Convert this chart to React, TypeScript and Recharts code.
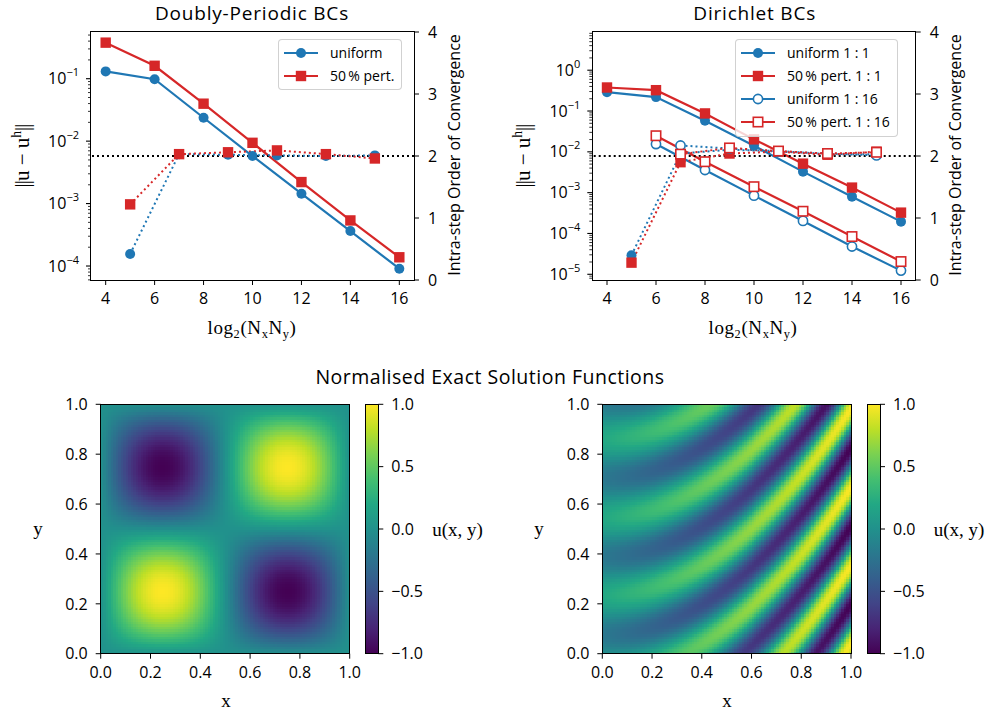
import React from 'react';
import {
  LineChart,
  Line,
  XAxis,
  YAxis,
  ReferenceLine,
  Legend,
  ScatterChart,
  Scatter,
  ComposedChart,
  ReferenceArea,
} from 'recharts';

const BLUE = '#1f77b4';
const RED = '#d62728';
const SANS = '"Open Sans", "Noto Sans", sans-serif';
const MATH = '"Liberation Serif", "DejaVu Serif", serif';

// ---- convergence study: refinement levels log2(Nx*Ny) ----
const errorLevels = [4, 6, 8, 10, 12, 14, 16];
const orderLevels = [5, 7, 9, 11, 13, 15];
const levelTicks = [4, 6, 8, 10, 12, 14, 16];
const orderTicks = [0, 1, 2, 3, 4];
const targetOrder = 2;

// Doubly-periodic BCs: error norms and intra-step orders
const periodicUniformError = [0.131, 0.098, 0.0237, 0.00577, 0.00144, 3.63e-4, 9.05e-5];
const periodicPerturbedError = [0.378, 0.161, 0.0398, 0.0094, 0.00221, 5.37e-4, 1.38e-4];
const periodicUniformOrder = [0.42, 2.03, 2.02, 2.01, 2.0, 2.01];
const periodicPerturbedOrder = [1.22, 2.03, 2.06, 2.09, 2.03, 1.96];

// Dirichlet BCs: aspect ratios 1:1 and 1:16
const dirichletUniform11Error = [0.29, 0.219, 0.0575, 0.0141, 0.00327, 7.98e-4, 1.95e-4];
const dirichletPerturbed11Error = [0.377, 0.324, 0.0873, 0.0202, 0.00513, 0.00133, 3.24e-4];
const dirichletUniform116Error = [null, 0.0155, 0.00359, 8.45e-4, 2.03e-4, 4.78e-5, 1.23e-5];
const dirichletPerturbed116Error = [null, 0.0248, 0.00573, 0.0014, 3.5e-4, 8.4e-5, 2.05e-5];
const dirichletUniform11Order = [0.4, 2.04, 2.1, 2.08, 2.03, 2.03];
const dirichletPerturbed11Order = [0.28, 1.9, 2.04, 2.07, 2.02, 2.07];
const dirichletUniform116Order = [null, 2.17, 2.12, 2.07, 2.04, 2.01];
const dirichletPerturbed116Order = [null, 2.03, 2.13, 2.08, 2.04, 2.06];

// log-axis limits (as log10 exponents)
const periodicErrorLimits = [-4.224, -0.252];
const dirichletErrorLimits = [-5.14, 0.936];

// ---- exact solution fields ----
const fieldTicks = [0, 0.2, 0.4, 0.6, 0.8, 1];
const colourbarTicks = [-1, -0.5, 0, 0.5, 1];
const FIELD_N = 100;
const periodicWaveNumbers = [1, 1];
const dirichletEnvelope = [0.2, 0.8];
const dirichletPhase = [15, 20];

const viridisStops = [
  '#440154', '#482475', '#414487', '#355f8d', '#2a788e', '#21918c',
  '#22a884', '#44bf70', '#7ad151', '#bddf26', '#fde725',
];

type Num = number | null;
type Series = {
  key: string;
  label?: string;
  color: string;
  marker: 'circle' | 'square';
  open?: boolean;
  axis: 'err' | 'ord';
  dotted?: boolean;
  values: Num[];
};

function buildRows(series: Series[]) {
  const levels: number[] = [];
  for (let n = 4; n <= 16; n++) levels.push(n);
  return levels.map((n) => {
    const row: Record<string, Num> = { n };
    series.forEach((s) => {
      const idx = (s.axis === 'err' ? errorLevels : orderLevels).indexOf(n);
      row[s.key] = idx >= 0 ? s.values[idx] : null;
    });
    return row;
  });
}

function logTicks(limits: number[]) {
  const lo = Math.pow(10, limits[0]);
  const hi = Math.pow(10, limits[1]);
  const out: number[] = [];
  for (let d = Math.floor(limits[0]); d <= Math.ceil(limits[1]); d++) {
    for (let m = 1; m <= 9; m++) {
      const v = m * Math.pow(10, d);
      if (v >= lo && v <= hi) out.push(v);
    }
  }
  return out;
}

const hexToRgb = (h: string) => [1, 3, 5].map((i) => parseInt(h.slice(i, i + 2), 16));
const viridisRgb = viridisStops.map(hexToRgb);
function viridis(u: number) {
  const t = Math.min(1, Math.max(0, (u + 1) / 2)) * (viridisRgb.length - 1);
  const i = Math.min(viridisRgb.length - 2, Math.floor(t));
  const f = t - i;
  const a = viridisRgb[i];
  const b = viridisRgb[i + 1];
  const c = a.map((v, k) => Math.round(v + (b[k] - v) * f));
  return `rgb(${c[0]},${c[1]},${c[2]})`;
}

const periodicSolution = (x: number, y: number) =>
  Math.sin(2 * Math.PI * periodicWaveNumbers[0] * x) * Math.sin(2 * Math.PI * periodicWaveNumbers[1] * y);
const dirichletSolution = (x: number, y: number) =>
  (dirichletEnvelope[0] + dirichletEnvelope[1] * x) * Math.sin(dirichletPhase[0] * x * x - dirichletPhase[1] * y);

function sampleField(fn: (x: number, y: number) => number) {
  const cells: { x: number; y: number; u: number }[] = [];
  for (let j = 0; j < FIELD_N; j++) {
    for (let i = 0; i < FIELD_N; i++) {
      const x = (i + 0.5) / FIELD_N;
      const y = (j + 0.5) / FIELD_N;
      cells.push({ x, y, u: fn(x, y) });
    }
  }
  return cells;
}

const periodicCells = sampleField(periodicSolution);
const dirichletCells = sampleField(dirichletSolution);

// ---- shared drawing helpers ----
function Marker({ cx, cy, color, marker, open }: { cx: number; cy: number; color: string; marker: string; open?: boolean }) {
  if (marker === 'circle') {
    return open ? (
      <circle cx={cx} cy={cy} r={4.6} fill="#fff" stroke={color} strokeWidth={1.6} />
    ) : (
      <circle cx={cx} cy={cy} r={5} fill={color} />
    );
  }
  const s = open ? 9.4 : 10.4;
  return open ? (
    <rect x={cx - s / 2} y={cy - s / 2} width={s} height={s} fill="#fff" stroke={color} strokeWidth={1.6} />
  ) : (
    <rect x={cx - s / 2} y={cy - s / 2} width={s} height={s} fill={color} />
  );
}

const dotFor = (s: Series) => (props: any) => {
  const { cx, cy, index, value } = props;
  const key = `${s.key}-${index}`;
  if (value == null || cx == null || cy == null || Number.isNaN(cy)) return <g key={key} />;
  return <Marker key={key} cx={cx} cy={cy} color={s.color} marker={s.marker} open={s.open} />;
};

function LogTick(props: any) {
  const { x, y, payload } = props;
  const v = payload.value as number;
  const e = Math.round(Math.log10(v));
  const major = Math.abs(Math.log10(v) - e) < 1e-9;
  return (
    <g>
      <line x1={x - (major ? 5 : 3)} x2={x} y1={y} y2={y} stroke="#000" strokeWidth={major ? 1.1 : 0.8} />
      {major && (
        <text x={x - 12} y={y + 5.5} textAnchor="end" fontFamily={SANS} fontSize={16} fill="#000">
          10
          <tspan dy={-8} fontSize={11}>
            {e < 0 ? `\u2212${-e}` : `${e}`}
          </tspan>
        </text>
      )}
    </g>
  );
}

function LegendBox({ entries }: { entries: Series[] }) {
  return (
    <div
      style={{
        background: 'rgba(255,255,255,0.8)',
        border: '1px solid rgba(204,204,204,0.9)',
        borderRadius: 4,
        padding: '1px 7px 2px 4px',
        fontFamily: SANS,
        fontSize: 14,
        color: '#000',
        lineHeight: 1,
      }}
    >
      {entries.map((s) => (
        <div key={s.key} style={{ display: 'flex', alignItems: 'center', height: 23.2 }}>
          <svg width={36} height={14} style={{ flex: 'none' }}>
            <line x1={1} x2={35} y1={7} y2={7} stroke={s.color} strokeWidth={2.2} />
            <Marker cx={18} cy={7} color={s.color} marker={s.marker} open={s.open} />
          </svg>
          <span style={{ marginLeft: 11, whiteSpace: 'nowrap' }}>{s.label}</span>
        </div>
      ))}
    </div>
  );
}

const tickText = { fill: '#000', fontSize: 16, fontFamily: SANS };
const fmt1 = (v: number) => (v < 0 ? '\u2212' : '') + Math.abs(v).toFixed(1);

function Frame({ x, y, w, h }: { x: number; y: number; w: number; h: number }) {
  const lw = 1.3;
  return (
    <div
      style={{
        position: 'absolute',
        left: x - lw / 2,
        top: y - lw / 2,
        width: w + lw,
        height: h + lw,
        border: `${lw}px solid #000`,
        boxSizing: 'border-box',
        pointerEvents: 'none',
      }}
    />
  );
}

function Txt({ x, y, rot = 0, size = 16, family = SANS, spacing = 0, children }: any) {
  return (
    <div
      style={{
        position: 'absolute',
        left: x,
        top: y,
        transform: `translate(-50%, -50%) rotate(${rot}deg)`,
        fontSize: size,
        fontFamily: family,
        letterSpacing: spacing,
        whiteSpace: 'nowrap',
        lineHeight: 1.25,
        color: '#000',
      }}
    >
      {children}
    </div>
  );
}

function ConvergencePanel({
  left,
  margin,
  series,
  limits,
  legendAt,
}: {
  left: number;
  margin: { top: number; right: number; bottom: number; left: number };
  series: Series[];
  limits: number[];
  legendAt: { left: number; top: number };
}) {
  const rows = buildRows(series);
  const ticks = logTicks(limits);
  const errSeries = series.filter((s) => s.axis === 'err');
  const ordSeries = series.filter((s) => s.axis === 'ord');
  const renderLine = (s: Series) => (
    <Line
      key={s.key}
      yAxisId={s.axis}
      dataKey={s.key}
      stroke={s.color}
      strokeWidth={s.dotted ? 2 : 2.2}
      strokeDasharray={s.dotted ? '2 3' : undefined}
      dot={dotFor(s)}
      activeDot={false}
      connectNulls
      isAnimationActive={false}
      legendType="none"
    />
  );
  return (
    <div style={{ position: 'absolute', left, top: 0 }}>
      <LineChart width={495} height={340} data={rows} margin={margin}>
        <XAxis
          dataKey="n"
          type="number"
          domain={[3.4, 16.6]}
          ticks={levelTicks}
          allowDataOverflow
          interval={0}
          axisLine={false}
          tickLine={{ stroke: '#000' }}
          tickSize={5}
          tickMargin={8}
          tick={tickText}
          height={40}
        />
        <YAxis
          yAxisId="err"
          scale="log"
          type="number"
          domain={[Math.pow(10, limits[0]), Math.pow(10, limits[1])]}
          ticks={ticks}
          allowDataOverflow
          interval={0}
          axisLine={false}
          tickLine={false}
          tickSize={0}
          tickMargin={0}
          tick={<LogTick />}
          width={60}
        />
        <YAxis
          yAxisId="ord"
          orientation="right"
          type="number"
          domain={[0, 4]}
          ticks={orderTicks}
          allowDataOverflow
          interval={0}
          axisLine={false}
          tickLine={{ stroke: '#000' }}
          tickSize={5}
          tickMargin={9}
          tick={tickText}
          width={50}
        />
        {errSeries.map(renderLine)}
        <ReferenceLine yAxisId="ord" y={targetOrder} stroke="#000" strokeWidth={2} strokeDasharray="2 3" />
        {ordSeries.map(renderLine)}
        <Legend
          layout="horizontal"
          verticalAlign="middle"
          align="center"
          wrapperStyle={{ left: legendAt.left, top: legendAt.top, width: 'auto', height: 'auto' }}
          content={() => <LegendBox entries={errSeries} />}
        />
      </LineChart>
    </div>
  );
}

const FIELD_PLOT = 249;
const cellShape = (props: any) => {
  const { cx, cy, payload } = props;
  const w = FIELD_PLOT / FIELD_N;
  return (
    <rect
      x={cx - w / 2}
      y={cy - w / 2}
      width={w + 0.6}
      height={w + 0.6}
      fill={viridis(payload.u)}
      shapeRendering="crispEdges"
    />
  );
};

function FieldPanel({
  left,
  margin,
  cells,
}: {
  left: number;
  margin: { top: number; right: number; bottom: number; left: number };
  cells: { x: number; y: number; u: number }[];
}) {
  return (
    <div style={{ position: 'absolute', left, top: 360 }}>
      <ScatterChart width={495} height={353} margin={margin}>
        <XAxis
          type="number"
          dataKey="x"
          domain={[0, 1]}
          ticks={fieldTicks}
          tickFormatter={fmt1}
          allowDataOverflow
          interval={0}
          axisLine={false}
          tickLine={{ stroke: '#000' }}
          tickSize={5}
          tickMargin={8}
          tick={tickText}
          height={35}
        />
        <YAxis
          type="number"
          dataKey="y"
          domain={[0, 1]}
          ticks={fieldTicks}
          tickFormatter={fmt1}
          allowDataOverflow
          interval={0}
          axisLine={false}
          tickLine={{ stroke: '#000' }}
          tickSize={5}
          tickMargin={8}
          tick={tickText}
          width={60}
        />
        <Scatter data={cells} shape={cellShape} isAnimationActive={false} />
      </ScatterChart>
    </div>
  );
}

function Colourbar({
  left,
  margin,
  id,
}: {
  left: number;
  margin: { top: number; right: number; bottom: number; left: number };
  id: string;
}) {
  return (
    <div style={{ position: 'absolute', left, top: 360 }}>
      <ComposedChart width={100} height={353} margin={margin} data={[{ x: 0 }, { x: 1 }]}>
        <defs>
          <linearGradient id={id} x1="0" y1="1" x2="0" y2="0">
            {viridisStops.map((c, i) => (
              <stop key={i} offset={`${i * 10}%`} stopColor={c} />
            ))}
          </linearGradient>
        </defs>
        <XAxis type="number" dataKey="x" domain={[0, 1]} hide />
        <YAxis
          orientation="right"
          type="number"
          domain={[-1, 1]}
          ticks={colourbarTicks}
          tickFormatter={fmt1}
          allowDataOverflow
          interval={0}
          axisLine={false}
          tickLine={{ stroke: '#000' }}
          tickSize={5}
          tickMargin={8}
          tick={tickText}
          width={50}
        />
        <ReferenceArea x1={0} x2={1} y1={-1} y2={1} fill={`url(#${id})`} fillOpacity={1} stroke="none" />
      </ComposedChart>
    </div>
  );
}

const periodicSeries: Series[] = [
  { key: 'uErr', label: 'uniform', color: BLUE, marker: 'circle', axis: 'err', values: periodicUniformError },
  { key: 'pErr', label: '50\u2009% pert.', color: RED, marker: 'square', axis: 'err', values: periodicPerturbedError },
  { key: 'uOrd', color: BLUE, marker: 'circle', axis: 'ord', dotted: true, values: periodicUniformOrder },
  { key: 'pOrd', color: RED, marker: 'square', axis: 'ord', dotted: true, values: periodicPerturbedOrder },
];

const dirichletSeries: Series[] = [
  { key: 'u11Err', label: 'uniform 1\u2005:\u20051', color: BLUE, marker: 'circle', axis: 'err', values: dirichletUniform11Error },
  { key: 'p11Err', label: '50\u2009% pert. 1\u2005:\u20051', color: RED, marker: 'square', axis: 'err', values: dirichletPerturbed11Error },
  { key: 'u116Err', label: 'uniform 1\u2005:\u200516', color: BLUE, marker: 'circle', open: true, axis: 'err', values: dirichletUniform116Error },
  { key: 'p116Err', label: '50\u2009% pert. 1\u2005:\u200516', color: RED, marker: 'square', open: true, axis: 'err', values: dirichletPerturbed116Error },
  { key: 'u11Ord', color: BLUE, marker: 'circle', axis: 'ord', dotted: true, values: dirichletUniform11Order },
  { key: 'p11Ord', color: RED, marker: 'square', axis: 'ord', dotted: true, values: dirichletPerturbed11Order },
  { key: 'u116Ord', color: BLUE, marker: 'circle', open: true, axis: 'ord', dotted: true, values: dirichletUniform116Order },
  { key: 'p116Ord', color: RED, marker: 'square', open: true, axis: 'ord', dotted: true, values: dirichletPerturbed116Order },
];

const normLabel = (
  <span>
    <span style={{ letterSpacing: '-0.05em' }}>||</span>
    {'u \u2212 u'}
    <sup style={{ fontSize: '0.65em', verticalAlign: '0.55em' }}>h</sup>
    <span style={{ letterSpacing: '-0.05em' }}>||</span>
  </span>
);
const levelLabel = (
  <span>
    log<sub style={{ fontSize: '0.65em', verticalAlign: '-0.3em' }}>2</sub>(N
    <sub style={{ fontSize: '0.65em', verticalAlign: '-0.3em' }}>x</sub>N
    <sub style={{ fontSize: '0.65em', verticalAlign: '-0.3em' }}>y</sub>)
  </span>
);

export default function App() {
  return (
    <div
      style={{
        position: 'absolute',
        left: 0,
        top: 0,
        width: 990,
        height: 713,
        background: '#fff',
        overflow: 'hidden',
        fontFamily: SANS,
      }}
    >
      <ConvergencePanel
        left={0}
        margin={{ top: 32, right: 31, bottom: 20, left: 31 }}
        series={periodicSeries}
        limits={periodicErrorLimits}
        legendAt={{ left: 278, top: 39 }}
      />
      <ConvergencePanel
        left={495}
        margin={{ top: 32, right: 24.3, bottom: 20, left: 37.3 }}
        series={dirichletSeries}
        limits={dirichletErrorLimits}
        legendAt={{ left: 240, top: 39 }}
      />
      <FieldPanel left={0} margin={{ top: 44.3, right: 145.3, bottom: 24.3, left: 40.7 }} cells={periodicCells} />
      <FieldPanel left={495} margin={{ top: 44.3, right: 139, bottom: 24.3, left: 47.3 }} cells={dirichletCells} />
      <Colourbar left={340} margin={{ top: 44.3, right: 11.7, bottom: 59.3, left: 25.7 }} id="cbPeriodic" />
      <Colourbar left={840} margin={{ top: 44.3, right: 10, bottom: 59.3, left: 27.3 }} id="cbDirichlet" />

      <Frame x={91} y={32} w={323} h={248} />
      <Frame x={592.3} y={32} w={323.4} h={248} />
      <Frame x={100.7} y={404.3} w={249} h={249.4} />
      <Frame x={602.3} y={404.3} w={248.7} h={249.4} />
      <Frame x={365.7} y={404.3} w={12.6} h={249.4} />
      <Frame x={867.3} y={404.3} w={12.7} h={249.4} />

      <Txt x={252} y={13.5} size={19} spacing={0.8}>Doubly-Periodic BCs</Txt>
      <Txt x={754.7} y={13.5} size={19} spacing={0.8}>Dirichlet BCs</Txt>
      <Txt x={490} y={377} size={19.5} spacing={0.5}>Normalised Exact Solution Functions</Txt>

      <Txt x={21} y={156} rot={-90} size={21} family={MATH}>{normLabel}</Txt>
      <Txt x={252} y={329} size={19} family={MATH} spacing={0.6}>{levelLabel}</Txt>
      <Txt x={454} y={155} rot={-90} size={16}>Intra-step Order of Convergence</Txt>

      <Txt x={522} y={156} rot={-90} size={21} family={MATH}>{normLabel}</Txt>
      <Txt x={753} y={329} size={19} family={MATH} spacing={0.6}>{levelLabel}</Txt>
      <Txt x={955} y={155} rot={-90} size={16}>Intra-step Order of Convergence</Txt>

      <Txt x={38} y={529} size={19} family={MATH}>y</Txt>
      <Txt x={226} y={700.5} size={19} family={MATH}>x</Txt>
      <Txt x={457.5} y={530} size={19} family={MATH}>u(x, y)</Txt>
      <Txt x={539} y={529} size={19} family={MATH}>y</Txt>
      <Txt x={727} y={700.5} size={19} family={MATH}>x</Txt>
      <Txt x={959} y={530} size={19} family={MATH}>u(x, y)</Txt>
    </div>
  );
}
